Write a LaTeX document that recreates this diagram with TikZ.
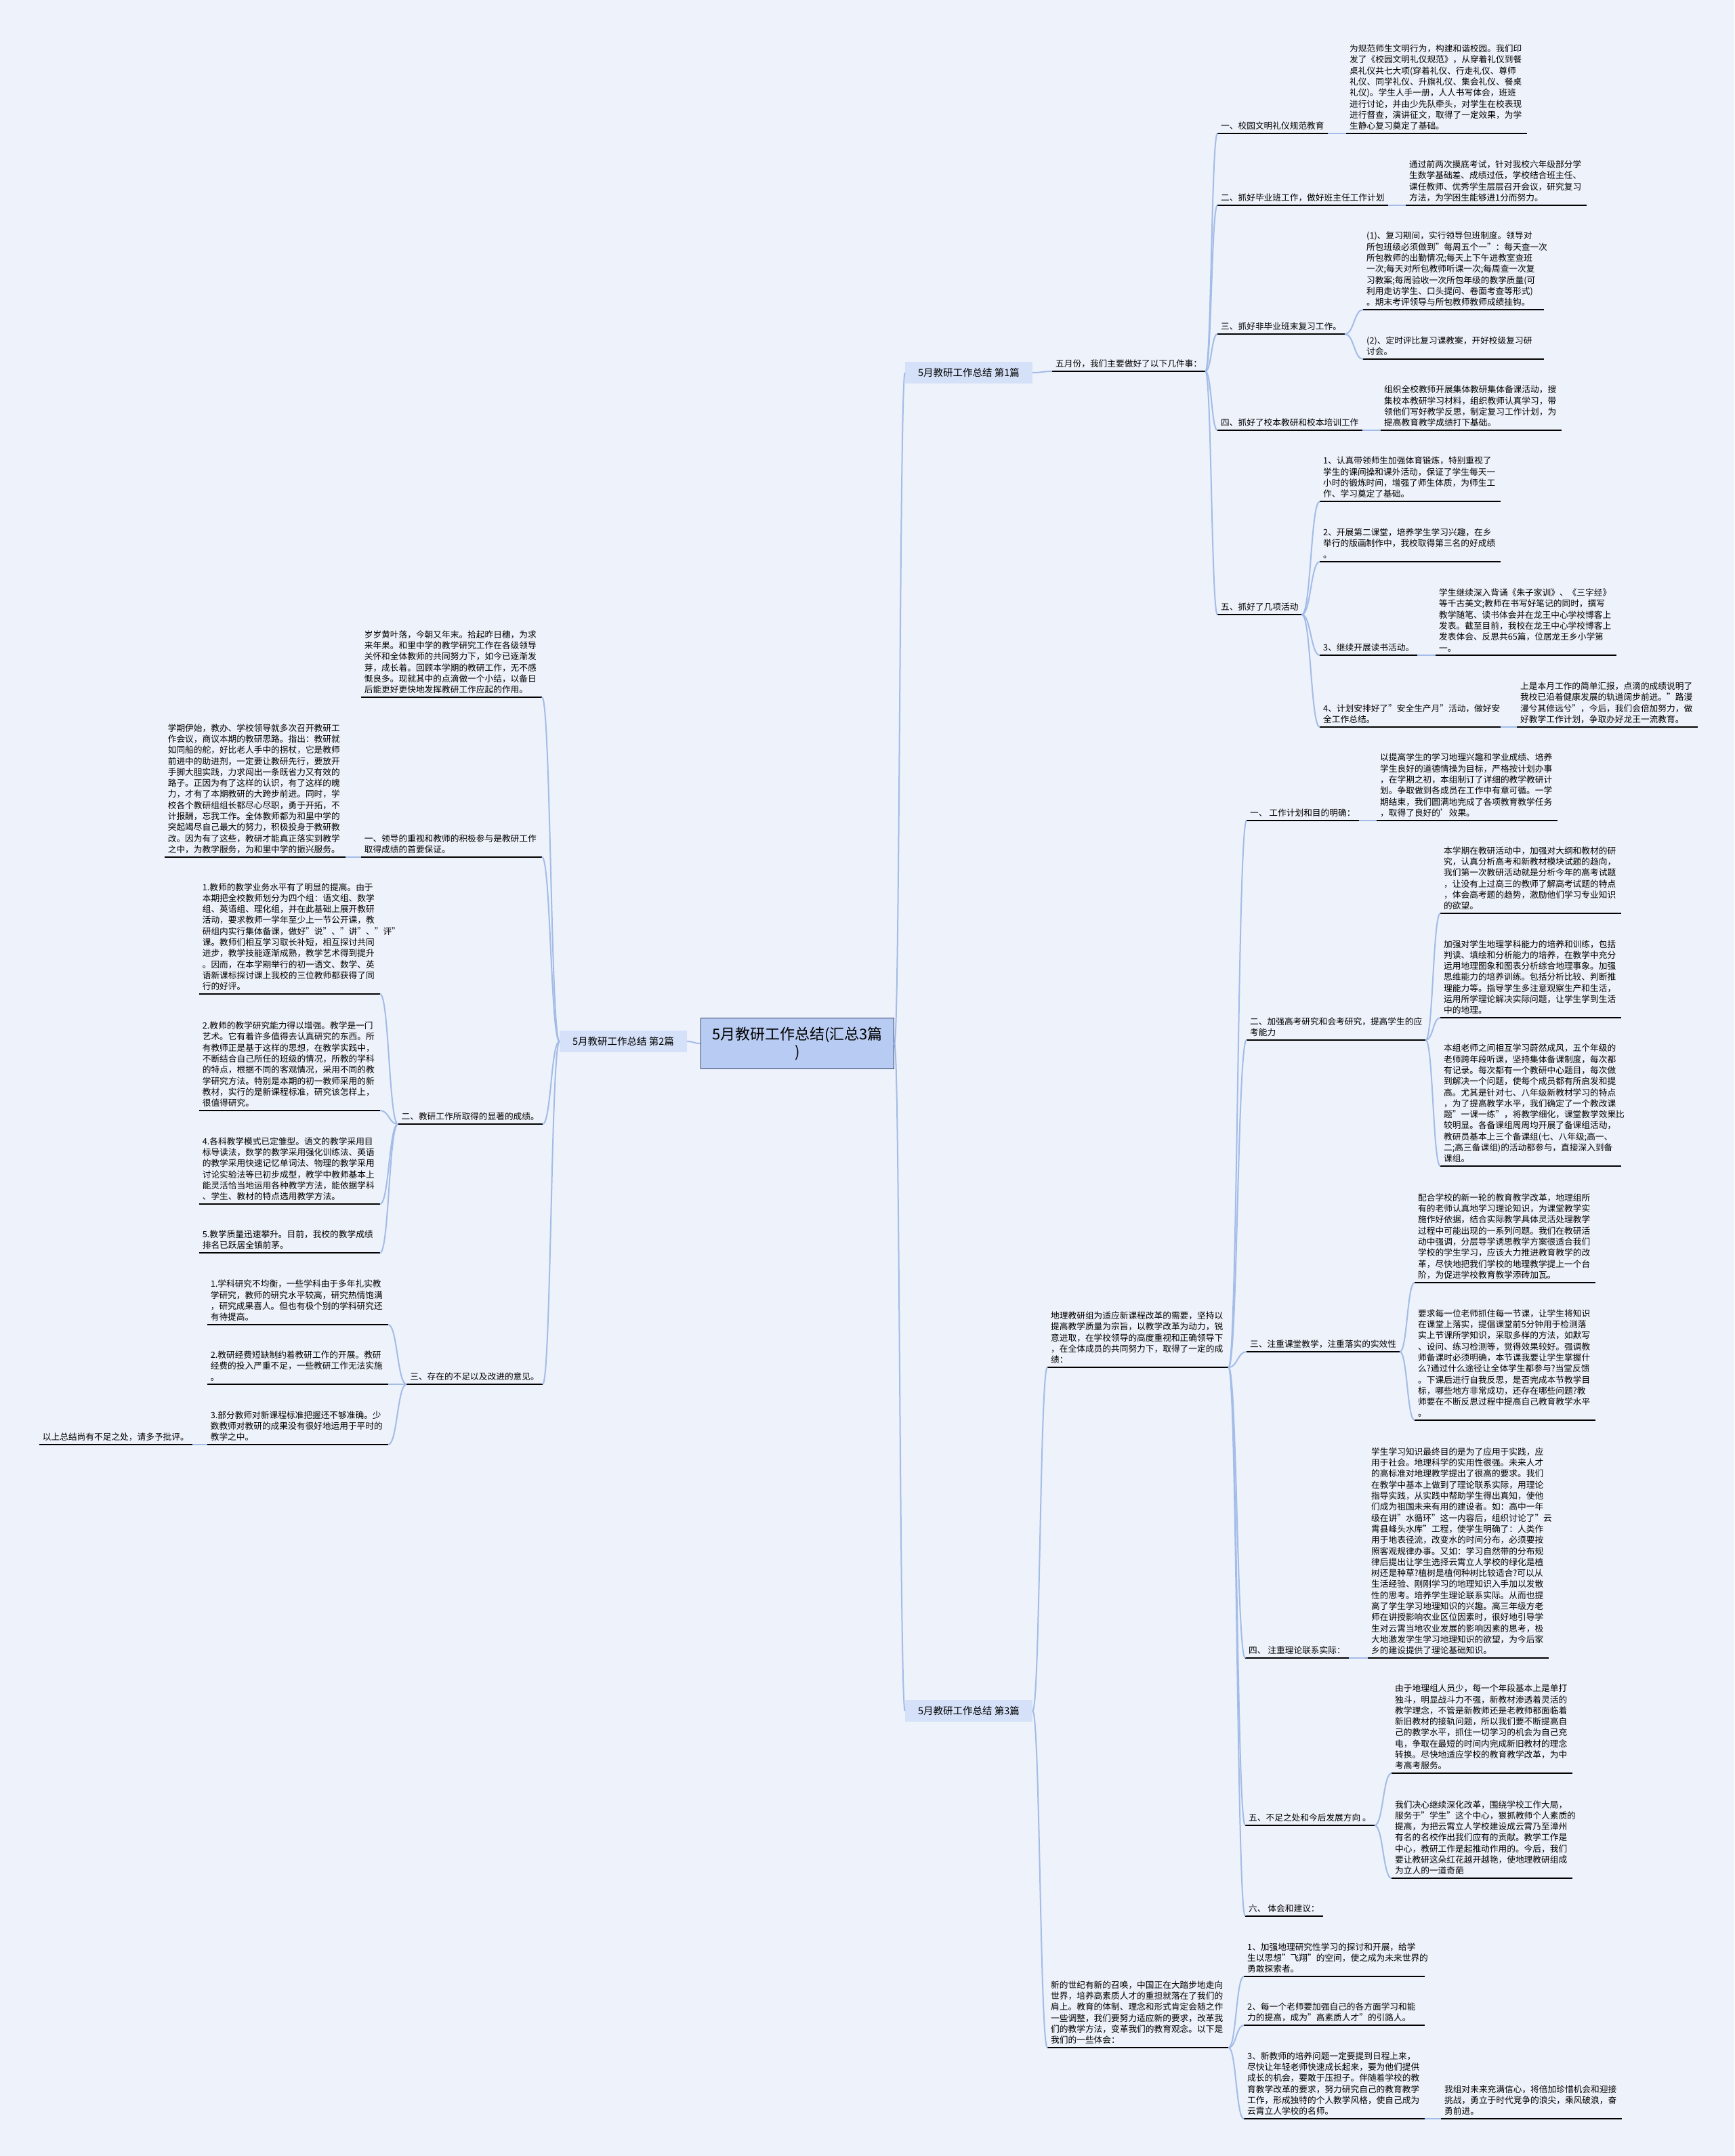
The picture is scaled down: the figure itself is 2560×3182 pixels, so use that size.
\documentclass[tikz,border=0pt]{standalone}
\usepackage{fontspec}
\setmainfont{Noto Sans CJK SC}
\usetikzlibrary{calc}

\definecolor{bgcol}{HTML}{EEF2FA}
\definecolor{linkcol}{HTML}{A3BCE8}
\definecolor{rootfill}{HTML}{B8CBF2}
\definecolor{rootline}{HTML}{2E3B63}
\definecolor{pianfill}{HTML}{D5E1F8}

\newcommand{\mapfont}{\fontsize{12.7}{16.3}\selectfont}

\tikzset{
  every node/.style={font=\mapfont},
  uline/.style={draw=black, line width=2.2pt},
  item/.style={anchor=south west, align=left, inner xsep=5pt, inner ysep=5pt,
    append after command={(\tikzlastnode.south west) edge[uline] (\tikzlastnode.south east)}},
  litem/.style={item, anchor=south east},
  para/.style={item, text width=257pt},
  lpara/.style={para, anchor=south east},
  root/.style={draw=rootline, fill=rootfill, line width=1.5pt, align=center,
    minimum width=285pt, minimum height=75pt, font=\fontsize{22}{26}\selectfont},
  pian/.style={fill=pianfill, minimum width=188pt, minimum height=32pt, inner sep=2pt,
    font=\fontsize{14.5}{17}\selectfont},
  link/.style={draw=linkcol, line width=2pt,
    to path={let \p1=(\tikztostart), \p2=(\tikztotarget) in
      .. controls ({(\x1+\x2)/2},\y1) and ({(\x1+\x2)/2},\y2) .. (\tikztotarget)}},
}

\begin{document}
\begin{tikzpicture}[x=1pt, y=-1pt]
  \fill[bgcol] (0,0) rectangle (2560,3182);
  \useasboundingbox (0,0) rectangle (2560,3182);

  % centre and the three parts
  \node[root] (root) at (1177,1540) {5月教研工作总结(汇总3篇\\)};
  \node[pian] (p1) at (1430,550) {5月教研工作总结 第1篇};
  \node[pian] (p2) at (920,1537) {5月教研工作总结 第2篇};
  \node[pian] (p3) at (1430,2525) {5月教研工作总结 第3篇};

  % part 1
  \node[item] (may) at (1553,548) {五月份，我们主要做好了以下几件事：};
  \node[item] (etq) at (1797,197) {一、校园文明礼仪规范教育};
  \node[para] (etqt) at (1987,197) {为规范师生文明行为，构建和谐校园。我们印\\发了《校园文明礼仪规范》，从穿着礼仪到餐\\桌礼仪共七大项(穿着礼仪、行走礼仪、尊师\\礼仪、同学礼仪、升旗礼仪、集会礼仪、餐桌\\礼仪)。学生人手一册，人人书写体会，班班\\进行讨论，并由少先队牵头，对学生在校表现\\进行督查，演讲征文，取得了一定效果，为学\\生静心复习奠定了基础。};
  \node[item] (grad) at (1797,303) {二、抓好毕业班工作，做好班主任工作计划};
  \node[para] (gradt) at (2075,303) {通过前两次摸底考试，针对我校六年级部分学\\生数学基础差、成绩过低，学校结合班主任、\\课任教师、优秀学生层层召开会议，研究复习\\方法，为学困生能够进1分而努力。};
  \node[item] (review) at (1797,493) {三、抓好非毕业班末复习工作。};
  \node[para] (review1) at (2012,457) {(1)、复习期间，实行领导包班制度。领导对\\所包班级必须做到"每周五个一"：每天查一次\\所包教师的出勤情况;每天上下午进教室查班\\一次;每天对所包教师听课一次;每周查一次复\\习教案;每周验收一次所包年级的教学质量(可\\利用走访学生、口头提问、卷面考查等形式)\\。期末考评领导与所包教师教师成绩挂钩。};
  \node[para] (review2) at (2012,530) {(2)、定时评比复习课教案，开好校级复习研\\讨会。};
  \node[item] (train) at (1797,635) {四、抓好了校本教研和校本培训工作};
  \node[para] (traint) at (2038,635) {组织全校教师开展集体教研集体备课活动，搜\\集校本教研学习材料，组织教师认真学习，带\\领他们写好教学反思，制定复习工作计划，为\\提高教育教学成绩打下基础。};
  \node[item] (act) at (1797,907) {五、抓好了几项活动};
  \node[para] (act1) at (1948,740) {1、认真带领师生加强体育锻炼，特别重视了\\学生的课间操和课外活动，保证了学生每天一\\小时的锻炼时间，增强了师生体质，为师生工\\作、学习奠定了基础。};
  \node[para] (act2) at (1948,829) {2、开展第二课堂，培养学生学习兴趣，在乡\\举行的版画制作中，我校取得第三名的好成绩\\。};
  \node[item] (act3) at (1948,967) {3、继续开展读书活动。};
  \node[para] (act3t) at (2119,967) {学生继续深入背诵《朱子家训》、《三字经》\\等千古美文;教师在书写好笔记的同时，撰写\\教学随笔、读书体会并在龙王中心学校博客上\\发表。截至目前，我校在龙王中心学校博客上\\发表体会、反思共65篇，位居龙王乡小学第\\一。};
  \node[para] (act4) at (1948,1073) {4、计划安排好了"安全生产月"活动，做好安\\全工作总结。};
  \node[para] (act4t) at (2239,1073) {上是本月工作的简单汇报，点滴的成绩说明了\\我校已沿着健康发展的轨道阔步前进。"路漫\\漫兮其修远兮"，今后，我们会倍加努力，做\\好教学工作计划，争取办好龙王一流教育。};

  % part 2
  \node[lpara] (year) at (800,1029) {岁岁黄叶落，今朝又年末。拾起昨日穗，为求\\来年果。和里中学的教学研究工作在各级领导\\关怀和全体教师的共同努力下，如今已逐渐发\\芽，成长着。回顾本学期的教研工作，无不感\\慨良多。现就其中的点滴做一个小结，以备日\\后能更好更快地发挥教研工作应起的作用。};
  \node[lpara] (lead) at (800,1265) {一、领导的重视和教师的积极参与是教研工作\\取得成绩的首要保证。};
  \node[lpara] (leadt) at (510,1265) {学期伊始，教办、学校领导就多次召开教研工\\作会议，商议本期的教研思路。指出：教研就\\如同船的舵，好比老人手中的拐杖，它是教师\\前进中的助进剂，一定要让教研先行，要放开\\手脚大胆实践，力求闯出一条既省力又有效的\\路子。正因为有了这样的认识，有了这样的魄\\力，才有了本期教研的大跨步前进。同时，学\\校各个教研组组长都尽心尽职，勇于开拓，不\\计报酬，忘我工作。全体教师都为和里中学的\\突起竭尽自己最大的努力，积极投身于教研教\\改。因为有了这些，教研才能真正落实到教学\\之中，为教学服务，为和里中学的振兴服务。};
  \node[litem] (gain) at (801,1659) {二、教研工作所取得的显著的成绩。};
  \node[lpara] (gain1) at (561,1467) {1.教师的教学业务水平有了明显的提高。由于\\本期把全校教师划分为四个组：语文组、数学\\组、英语组、理化组，并在此基础上展开教研\\活动，要求教师一学年至少上一节公开课，教\\研组内实行集体备课，做好"说"、"讲"、"评"\\课。教师们相互学习取长补短，相互探讨共同\\进步，教学技能逐渐成熟，教学艺术得到提升\\。因而，在本学期举行的初一语文、数学、英\\语新课标探讨课上我校的三位教师都获得了同\\行的好评。};
  \node[lpara] (gain2) at (561,1639) {2.教师的教学研究能力得以增强。教学是一门\\艺术。它有着许多值得去认真研究的东西。所\\有教师正是基于这样的思想，在教学实践中，\\不断结合自己所任的班级的情况，所教的学科\\的特点，根据不同的客观情况，采用不同的教\\学研究方法。特别是本期的初一教师采用的新\\教材，实行的是新课程标准，研究该怎样上，\\很值得研究。};
  \node[lpara] (gain4) at (561,1777) {4.各科教学模式已定雏型。语文的教学采用目\\标导读法，数学的教学采用强化训练法、英语\\的教学采用快速记忆单词法、物理的教学采用\\讨论实验法等已初步成型，教学中教师基本上\\能灵活恰当地运用各种教学方法，能依据学科\\、学生、教材的特点选用教学方法。};
  \node[lpara] (gain5) at (561,1849) {5.教学质量迅速攀升。目前，我校的教学成绩\\排名已跃居全镇前茅。};
  \node[litem] (lack) at (801,2043) {三、存在的不足以及改进的意见。};
  \node[lpara] (lack1) at (573,1955) {1.学科研究不均衡，一些学科由于多年扎实教\\学研究，教师的研究水平较高，研究热情饱满\\，研究成果喜人。但也有极个别的学科研究还\\有待提高。};
  \node[lpara] (lack2) at (573,2043) {2.教研经费短缺制约着教研工作的开展。教研\\经费的投入严重不足，一些教研工作无法实施\\。};
  \node[lpara] (lack3) at (573,2132) {3.部分教师对新课程标准把握还不够准确。少\\数教师对教研的成果没有很好地运用于平时的\\教学之中。};
  \node[litem] (close) at (284,2132) {以上总结尚有不足之处，请多予批评。};

  % part 3
  \node[para] (geo) at (1546,2018) {地理教研组为适应新课程改革的需要，坚持以\\提高教学质量为宗旨，以教学改革为动力，锐\\意进取，在学校领导的高度重视和正确领导下\\，在全体成员的共同努力下，取得了一定的成\\绩：};
  \node[item] (plan) at (1840,1211) {一、 工作计划和目的明确：};
  \node[para] (plant) at (2032,1211) {以提高学生的学习地理兴趣和学业成绩、培养\\学生良好的道德情操为目标，严格按计划办事\\，在学期之初，本组制订了详细的教学教研计\\划。争取做到各成员在工作中有章可循。一学\\期结束，我们圆满地完成了各项教育教学任务\\，取得了良好的'效果。};
  \node[item] (exam) at (1840,1535) {二、加强高考研究和会考研究，提高学生的应\\考能力};
  \node[para] (exam1) at (2126,1348) {本学期在教研活动中，加强对大纲和教材的研\\究，认真分析高考和新教材模块试题的趋向，\\我们第一次教研活动就是分析今年的高考试题\\，让没有上过高三的教师了解高考试题的特点\\，体会高考题的趋势，激励他们学习专业知识\\的欲望。};
  \node[para] (exam2) at (2126,1502) {加强对学生地理学科能力的培养和训练，包括\\判读、填绘和分析能力的培养，在教学中充分\\运用地理图象和图表分析综合地理事象。加强\\思维能力的培养训练。包括分析比较、判断推\\理能力等。指导学生多注意观察生产和生活，\\运用所学理论解决实际问题，让学生学到生活\\中的地理。};
  \node[para] (exam3) at (2126,1721) {本组老师之间相互学习蔚然成风，五个年级的\\老师跨年段听课，坚持集体备课制度，每次都\\有记录。每次都有一个教研中心题目，每次做\\到解决一个问题，使每个成员都有所启发和提\\高。尤其是针对七、八年级新教材学习的特点\\，为了提高教学水平，我们确定了一个教改课\\题"一课一练"，将教学细化，课堂教学效果比\\较明显。各备课组周周均开展了备课组活动，\\教研员基本上三个备课组(七、八年级;高一、\\二;高三备课组)的活动都参与，直接深入到备\\课组。};
  \node[item] (class) at (1840,1995) {三、注重课堂教学，注重落实的实效性};
  \node[para] (class1) at (2088,1893) {配合学校的新一轮的教育教学改革，地理组所\\有的老师认真地学习理论知识，为课堂教学实\\施作好依据，结合实际教学具体灵活处理教学\\过程中可能出现的一系列问题。我们在教研活\\动中强调，分层导学诱思教学方案很适合我们\\学校的学生学习，应该大力推进教育教学的改\\革，尽快地把我们学校的地理教学提上一个台\\阶，为促进学校教育教学添砖加瓦。};
  \node[para] (class2) at (2088,2096) {要求每一位老师抓住每一节课，让学生将知识\\在课堂上落实，提倡课堂前5分钟用于检测落\\实上节课所学知识，采取多样的方法，如默写\\、设问、练习检测等，觉得效果较好。强调教\\师备课时必须明确，本节课我要让学生掌握什\\么?通过什么途径让全体学生都参与?当堂反馈\\。下课后进行自我反思，是否完成本节教学目\\标，哪些地方非常成功，还存在哪些问题?教\\师要在不断反思过程中提高自己教育教学水平\\。};
  \node[item] (theory) at (1838,2447) {四、 注重理论联系实际：};
  \node[para] (theoryt) at (2019,2447) {学生学习知识最终目的是为了应用于实践，应\\用于社会。地理科学的实用性很强。未来人才\\的高标准对地理教学提出了很高的要求。我们\\在教学中基本上做到了理论联系实际，用理论\\指导实践，从实践中帮助学生得出真知，使他\\们成为祖国未来有用的建设者。如：高中一年\\级在讲"水循环"这一内容后，组织讨论了"云\\霄县峰头水库"工程，使学生明确了：人类作\\用于地表径流，改变水的时间分布，必须要按\\照客观规律办事。又如：学习自然带的分布规\\律后提出让学生选择云霄立人学校的绿化是植\\树还是种草?植树是植何种树比较适合?可以从\\生活经验、刚刚学习的地理知识入手加以发散\\性的思考。培养学生理论联系实际。从而也提\\高了学生学习地理知识的兴趣。高三年级方老\\师在讲授影响农业区位因素时，很好地引导学\\生对云霄当地农业发展的影响因素的思考，极\\大地激发学生学习地理知识的欲望，为今后家\\乡的建设提供了理论基础知识。};
  \node[item] (future) at (1838,2694) {五、不足之处和今后发展方向 。};
  \node[para] (future1) at (2054,2617) {由于地理组人员少，每一个年段基本上是单打\\独斗，明显战斗力不强，新教材渗透着灵活的\\教学理念，不管是新教师还是老教师都面临着\\新旧教材的接轨问题，所以我们要不断提高自\\己的教学水平，抓住一切学习的机会为自己充\\电，争取在最短的时间内完成新旧教材的理念\\转换。尽快地适应学校的教育教学改革，为中\\考高考服务。};
  \node[para] (future2) at (2054,2772) {我们决心继续深化改革，围绕学校工作大局，\\服务于"学生"这个中心，狠抓教师个人素质的\\提高，为把云霄立人学校建设成云霄乃至漳州\\有名的名校作出我们应有的贡献。教学工作是\\中心，教研工作是起推动作用的。今后，我们\\要让教研这朵红花越开越艳，使地理教研组成\\为立人的一道奇葩};
  \node[item] (advice) at (1838,2828) {六、 体会和建议：};
  \node[para] (era) at (1546,3022) {新的世纪有新的召唤，中国正在大踏步地走向\\世界，培养高素质人才的重担就落在了我们的\\肩上。教育的体制、理念和形式肯定会随之作\\一些调整，我们要努力适应新的要求，改革我\\们的教学方法，变革我们的教育观念。以下是\\我们的一些体会：};
  \node[para] (era1) at (1836,2917) {1、加强地理研究性学习的探讨和开展，给学\\生以思想"飞翔"的空间，使之成为未来世界的\\勇敢探索者。};
  \node[para] (era2) at (1836,2989) {2、每一个老师要加强自己的各方面学习和能\\力的提高，成为"高素质人才"的引路人。};
  \node[para] (era3) at (1836,3127) {3、新教师的培养问题一定要提到日程上来，\\尽快让年轻老师快速成长起来，要为他们提供\\成长的机会，要敢于压担子。伴随着学校的教\\育教学改革的要求，努力研究自己的教育教学\\工作，形成独特的个人教学风格，使自己成为\\云霄立人学校的名师。};
  \node[para] (eraend) at (2127,3127) {我组对未来充满信心，将倍加珍惜机会和迎接\\挑战，勇立于时代竞争的浪尖，乘风破浪，奋\\勇前进。};

  % connectors
  \draw[link] (root.east) to (p1.west);
  \draw[link] (root.east) to (p3.west);
  \draw[link] (root.west) to (p2.east);
  \draw[link] (p1.east) to (may.south west);
  \draw[link] (p3.east) to (geo.south west);
  \draw[link] (p3.east) to (era.south west);
  \foreach \s/\t in {may/etq, may/grad, may/review, may/train, may/act,
      etq/etqt, grad/gradt, review/review1, review/review2, train/traint,
      act/act1, act/act2, act/act3, act/act4, act3/act3t, act4/act4t,
      geo/plan, geo/exam, geo/class, geo/theory, geo/future, geo/advice,
      plan/plant, exam/exam1, exam/exam2, exam/exam3, class/class1, class/class2,
      theory/theoryt, future/future1, future/future2,
      era/era1, era/era2, era/era3, era3/eraend}
    \draw[link] (\s.south east) to (\t.south west);
  \foreach \t in {year, lead, gain, lack}
    \draw[link] (p2.west) to (\t.south east);
  \foreach \s/\t in {lead/leadt, gain/gain1, gain/gain2, gain/gain4, gain/gain5,
      lack/lack1, lack/lack2, lack/lack3, lack3/close}
    \draw[link] (\s.south west) to (\t.south east);
\end{tikzpicture}
\end{document}
